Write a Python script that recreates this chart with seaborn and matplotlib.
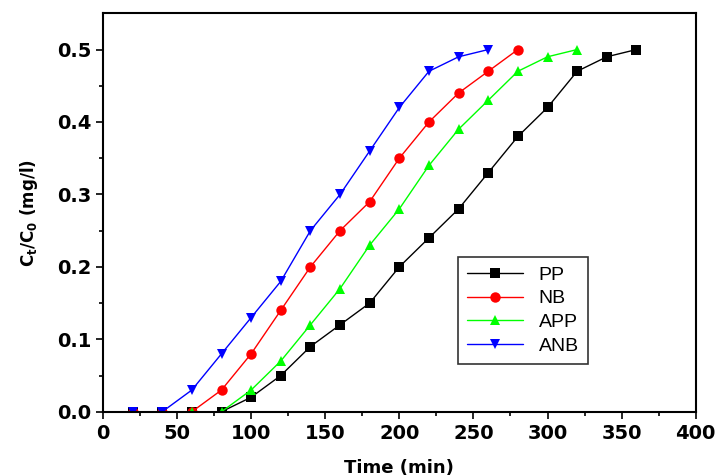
import pandas as pd
import matplotlib
matplotlib.use("Agg")
import matplotlib.pyplot as plt
import seaborn as sns

# breakthrough data
time_pp = [20, 40, 60, 80, 100, 120, 140, 160, 180, 200, 220, 240, 260, 280, 300, 320, 340, 360]
pp = [0, 0, 0, 0, 0.02, 0.05, 0.09, 0.12, 0.15, 0.20, 0.24, 0.28, 0.33, 0.38, 0.42, 0.47, 0.49, 0.50]

time_nb = [20, 40, 60, 80, 100, 120, 140, 160, 180, 200, 220, 240, 260, 280]
nb = [0, 0, 0, 0.03, 0.08, 0.14, 0.20, 0.25, 0.29, 0.35, 0.40, 0.44, 0.47, 0.50]

time_app = [20, 40, 60, 80, 100, 120, 140, 160, 180, 200, 220, 240, 260, 280, 300, 320]
app = [0, 0, 0, 0, 0.03, 0.07, 0.12, 0.17, 0.23, 0.28, 0.34, 0.39, 0.43, 0.47, 0.49, 0.50]

time_anb = [20, 40, 60, 80, 100, 120, 140, 160, 180, 200, 220, 240, 260]
anb = [0, 0, 0.03, 0.08, 0.13, 0.18, 0.25, 0.30, 0.36, 0.42, 0.47, 0.49, 0.50]

series = ["PP", "NB", "APP", "ANB"]
colors = {"PP": "black", "NB": "#ff0000", "APP": "#00ff00", "ANB": "#0000ff"}
markers = {"PP": "s", "NB": "o", "APP": "^", "ANB": "v"}

df = pd.concat([
    pd.DataFrame({"time": time_pp, "c": pp, "sample": "PP"}),
    pd.DataFrame({"time": time_nb, "c": nb, "sample": "NB"}),
    pd.DataFrame({"time": time_app, "c": app, "sample": "APP"}),
    pd.DataFrame({"time": time_anb, "c": anb, "sample": "ANB"}),
])

sns.set_style("ticks", {"axes.edgecolor": "black", "xtick.color": "black",
                        "ytick.color": "black", "text.color": "black",
                        "axes.labelcolor": "black"})
plt.rcParams['font.family'] = ['DejaVu Sans']

fig = plt.figure(figsize=(7.15, 4.76), dpi=100)
ax = fig.add_axes([0.144, 0.135, 0.829, 0.837])

sns.lineplot(data=df, x="time", y="c", hue="sample", style="sample",
             hue_order=series, style_order=series, palette=colors,
             markers=markers, dashes=False, linewidth=1, markersize=7.5,
             markeredgewidth=0, ax=ax)

ax.set_xlim(0, 400)
ax.set_ylim(0, 0.55)
ax.set_xticks(range(0, 401, 50))
ax.set_xticks(range(25, 400, 50), minor=True)
ax.set_yticks([0, 0.1, 0.2, 0.3, 0.4, 0.5])
ax.set_yticks([0.05, 0.15, 0.25, 0.35, 0.45], minor=True)
ax.set_yticklabels(["0.0", "0.1", "0.2", "0.3", "0.4", "0.5"])
ax.tick_params(which="major", direction="out", length=5, width=1.2,
               top=False, right=False, labelsize=14, colors="black")
ax.tick_params(which="minor", direction="out", length=3, width=1.2,
               top=False, right=False, colors="black")
for lab in ax.get_xticklabels() + ax.get_yticklabels():
    lab.set_fontweight("bold")
for sp in ax.spines.values():
    sp.set_visible(True)
    sp.set_linewidth(1.5)
    sp.set_color("black")

ax.set_xlabel("Time (min)", fontsize=13, fontweight="bold", labelpad=12, color="black")
ax.set_ylabel("C$_\\mathbf{t}$/C$_\\mathbf{0}$ (mg/l)", fontsize=12, fontweight="bold",
              labelpad=12, color="black")

handles, labels = ax.get_legend_handles_labels()
ax.legend(handles, labels, loc="upper left", bbox_to_anchor=(0.599, 0.388),
          borderaxespad=0, frameon=True, fancybox=False, edgecolor="black",
          prop={"family": "Liberation Sans", "size": 14},
          handlelength=2.9, borderpad=0.45, labelspacing=0.32)
ax.get_legend().get_frame().set_linewidth(1.2)

fig.savefig("out.png", dpi=100)
